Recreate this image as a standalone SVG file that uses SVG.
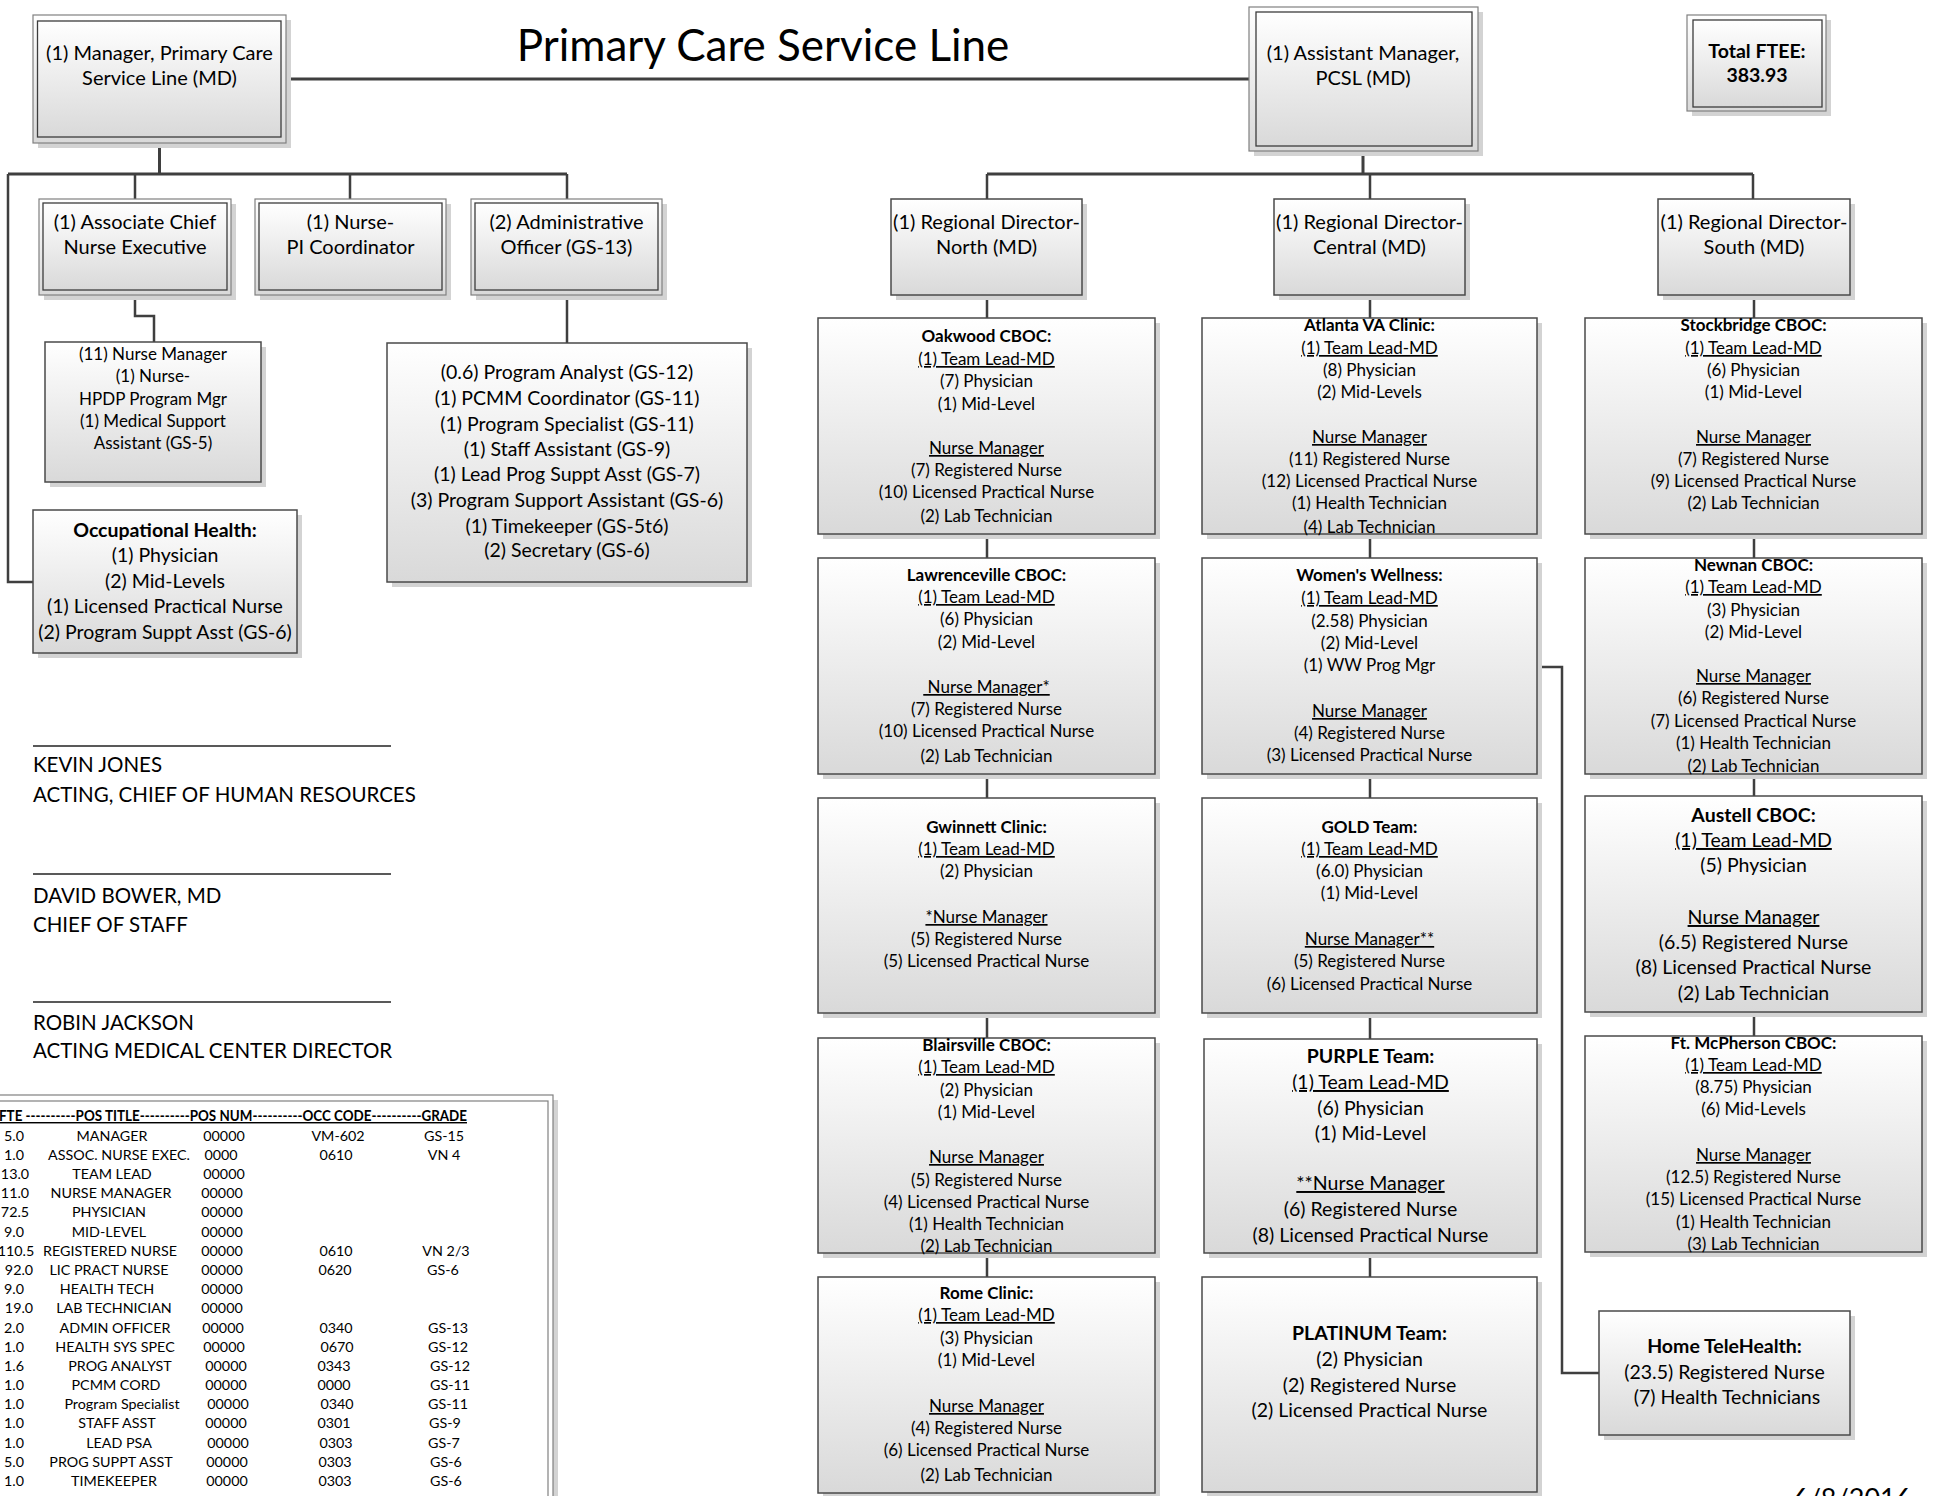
<svg xmlns="http://www.w3.org/2000/svg" width="1935" height="1496" viewBox="0 0 1935 1496">
<defs>
<linearGradient id="gf" x1="0" y1="0" x2="0" y2="1">
<stop offset="0" stop-color="#ffffff"/>
<stop offset="1" stop-color="#d9d9d9"/>
</linearGradient>
</defs>
<style>
.bg{fill:#ffffff}
.sh{fill:#d3d3d3}
.bx{fill:url(#gf);stroke:#4a4a4a;stroke-width:1.5}
.ob{fill:url(#gf);stroke:#808080;stroke-width:1.2}
.ib{fill:url(#gf);stroke:#3c3c3c;stroke-width:1.3}
.tb{fill:#ffffff;stroke:#808080;stroke-width:1.2}
.c{fill:none;stroke:#3f3f3f;stroke-width:2.5}
.c3{fill:none;stroke:#3f3f3f;stroke-width:3}
.sig{stroke:#222;stroke-width:1.5}
text{font-family:Lato,"Liberation Sans",sans-serif;fill:#000}
.m{text-anchor:middle}
.f17{font-size:17px}
.f19{font-size:19.5px}
.f20{font-size:20px}
.f14{font-size:14.3px}
.f21{font-size:20.5px}
.b{font-weight:bold}
.u{text-decoration:underline}
</style>
<rect class="bg" x="0" y="0" width="1935" height="1496"/>

<text id="title" class="m" x="763" y="61" style="font-size:44px">Primary Care Service Line</text>

<g id="connectors">
<path class="c3" d="M286 79 H1249"/>
<path class="c3" d="M159.5 143 V174 M8 174 H567"/>
<path class="c" d="M8 174 V582 H33"/>
<path class="c" d="M135 174 V199 M350 174 V199 M567 174 V199"/>
<path class="c" d="M135 295 V316 H154 V342"/>
<path class="c" d="M567 295 V343"/>
<path class="c3" d="M1363 151 V174 M987 174 H1753"/>
<path class="c" d="M987 174 V199 M1370 174 V199 M1753 174 V199"/>
<path class="c" d="M987 295 V318 M987 534 V558 M987 774 V798 M987 1013 V1038 M987 1253 V1277"/>
<path class="c" d="M1370 295 V318 M1370 534 V558 M1370 774 V798 M1370 1013 V1039 M1370 1253 V1277"/>
<path class="c" d="M1754 295 V318 M1754 534 V558 M1754 774 V796 M1754 1012 V1036"/>
<path class="c" d="M1537 667 H1562 V1373 H1599"/>
</g>

<g id="manager">
<rect class="sh" x="38" y="20" width="253" height="128"/>
<rect class="ob" x="33" y="15" width="253" height="128"/>
<rect class="ib" x="37.5" y="21" width="243.5" height="116"/>
<text class="m f20" x="159.5" y="60">(1) Manager, Primary Care</text>
<text class="m f20" x="159.5" y="85">Service Line (MD)</text>
</g>

<g id="asst-manager">
<rect class="sh" x="1254" y="12" width="229" height="144"/>
<rect class="ob" x="1249" y="7" width="229" height="144"/>
<rect class="ib" x="1256" y="12" width="216" height="134"/>
<text class="m f20" x="1363" y="60">(1) Assistant Manager,</text>
<text class="m f20" x="1363" y="85">PCSL (MD)</text>
</g>

<g id="total-ftee">
<rect class="sh" x="1692" y="20" width="139" height="96"/>
<rect class="ob" x="1687" y="15" width="139" height="96"/>
<rect class="ib" x="1693" y="20" width="129" height="87"/>
<text class="m f19 b" x="1757" y="58">Total FTEE:</text>
<text class="m f19 b" x="1757" y="82">383.93</text>
</g>

<g id="acne">
<rect class="sh" x="44" y="204" width="192" height="96"/>
<rect class="ob" x="39" y="199" width="192" height="96"/>
<rect class="ib" x="43" y="203" width="184" height="87"/>
<text class="m f20" x="135" y="229">(1) Associate Chief</text>
<text class="m f20" x="135" y="254">Nurse Executive</text>
</g>

<g id="nurse-pi">
<rect class="sh" x="260" y="204" width="191" height="96"/>
<rect class="ob" x="255" y="199" width="191" height="96"/>
<rect class="ib" x="259" y="203" width="183" height="87"/>
<text class="m f20" x="350.5" y="229">(1) Nurse-</text>
<text class="m f20" x="350.5" y="254">PI Coordinator</text>
</g>

<g id="admin-officer">
<rect class="sh" x="476" y="204" width="191" height="96"/>
<rect class="ob" x="471" y="199" width="191" height="96"/>
<rect class="ib" x="475" y="203" width="183" height="87"/>
<text class="m f20" x="566.5" y="229">(2) Administrative</text>
<text class="m f20" x="566.5" y="254">Officer (GS-13)</text>
</g>

<g id="nurse-manager-group">
<rect class="sh" x="50" y="347" width="216" height="140"/>
<rect class="bx" x="45" y="342" width="216" height="140"/>
<text class="m f17" x="153" y="360">(11) Nurse Manager</text>
<text class="m f17" x="153" y="382">(1) Nurse-</text>
<text class="m f17" x="153" y="405">HPDP Program Mgr</text>
<text class="m f17" x="153" y="427">(1) Medical Support</text>
<text class="m f17" x="153" y="449">Assistant (GS-5)</text>
</g>

<g id="program-staff">
<rect class="sh" x="392" y="348" width="360" height="239"/>
<rect class="bx" x="387" y="343" width="360" height="239"/>
<text class="m f19" x="567" y="379">(0.6) Program Analyst (GS-12)</text>
<text class="m f19" x="567" y="405">(1) PCMM Coordinator (GS-11)</text>
<text class="m f19" x="567" y="431">(1) Program Specialist (GS-11)</text>
<text class="m f19" x="567" y="456">(1) Staff Assistant (GS-9)</text>
<text class="m f19" x="567" y="481">(1) Lead Prog Suppt Asst (GS-7)</text>
<text class="m f19" x="567" y="507">(3) Program Support Assistant (GS-6)</text>
<text class="m f19" x="567" y="533">(1) Timekeeper (GS-5t6)</text>
<text class="m f19" x="567" y="557">(2) Secretary (GS-6)</text>
</g>

<g id="occupational-health">
<rect class="sh" x="38" y="515" width="264" height="143"/>
<rect class="bx" x="33" y="510" width="264" height="143"/>
<text class="m f19 b" x="165" y="537">Occupational Health:</text>
<text class="m f19" x="165" y="562">(1) Physician</text>
<text class="m f19" x="165" y="588">(2) Mid-Levels</text>
<text class="m f19" x="165" y="613">(1) Licensed Practical Nurse</text>
<text class="m f19" x="165" y="639">(2) Program Suppt Asst (GS-6)</text>
</g>

<g id="signatures">
<line class="sig" x1="33" y1="746" x2="391" y2="746"/>
<text class="f21" x="33" y="772">KEVIN JONES</text>
<text class="f21" x="33" y="802">ACTING, CHIEF OF HUMAN RESOURCES</text>
<line class="sig" x1="33" y1="874" x2="391" y2="874"/>
<text class="f21" x="33" y="903">DAVID BOWER, MD</text>
<text class="f21" x="33" y="932">CHIEF OF STAFF</text>
<line class="sig" x1="33" y1="1002" x2="391" y2="1002"/>
<text class="f21" x="33" y="1030">ROBIN JACKSON</text>
<text class="f21" x="33" y="1058">ACTING MEDICAL CENTER DIRECTOR</text>
</g>

<g id="fte-table">
<rect class="sh" x="-15" y="1100" width="573" height="420"/>
<rect class="tb" x="-20" y="1095" width="573" height="420"/>
<rect class="tb" x="-16" y="1101" width="564" height="410"/>
<text class="f14 b u" x="-1" y="1121" textLength="468" lengthAdjust="spacingAndGlyphs">FTE ----------POS TITLE----------POS NUM----------OCC CODE----------GRADE</text>
<g class="f14">
<text class="m" x="14" y="1141">5.0</text><text class="m" x="112" y="1141">MANAGER</text><text class="m" x="224" y="1141">00000</text><text class="m" x="338" y="1141">VM-602</text><text class="m" x="444" y="1141">GS-15</text>
<text class="m" x="14" y="1160">1.0</text><text class="m" x="119" y="1160">ASSOC. NURSE EXEC.</text><text class="m" x="221" y="1160">0000</text><text class="m" x="336" y="1160">0610</text><text class="m" x="444" y="1160">VN 4</text>
<text class="m" x="15" y="1179">13.0</text><text class="m" x="112" y="1179">TEAM LEAD</text><text class="m" x="224" y="1179">00000</text>
<text class="m" x="15" y="1198">11.0</text><text class="m" x="111" y="1198">NURSE MANAGER</text><text class="m" x="222" y="1198">00000</text>
<text class="m" x="15" y="1217">72.5</text><text class="m" x="109" y="1217">PHYSICIAN</text><text class="m" x="222" y="1217">00000</text>
<text class="m" x="14" y="1237">9.0</text><text class="m" x="109" y="1237">MID-LEVEL</text><text class="m" x="222" y="1237">00000</text>
<text class="m" x="16" y="1256">110.5</text><text class="m" x="110" y="1256">REGISTERED NURSE</text><text class="m" x="222" y="1256">00000</text><text class="m" x="336" y="1256">0610</text><text class="m" x="446" y="1256">VN 2/3</text>
<text class="m" x="19" y="1275">92.0</text><text class="m" x="109" y="1275">LIC PRACT NURSE</text><text class="m" x="222" y="1275">00000</text><text class="m" x="335" y="1275">0620</text><text class="m" x="443" y="1275">GS-6</text>
<text class="m" x="14" y="1294">9.0</text><text class="m" x="107" y="1294">HEALTH TECH</text><text class="m" x="222" y="1294">00000</text>
<text class="m" x="19" y="1313">19.0</text><text class="m" x="114" y="1313">LAB TECHNICIAN</text><text class="m" x="222" y="1313">00000</text>
<text class="m" x="14" y="1333">2.0</text><text class="m" x="115" y="1333">ADMIN OFFICER</text><text class="m" x="223" y="1333">00000</text><text class="m" x="336" y="1333">0340</text><text class="m" x="448" y="1333">GS-13</text>
<text class="m" x="14" y="1352">1.0</text><text class="m" x="115" y="1352">HEALTH SYS SPEC</text><text class="m" x="224" y="1352">00000</text><text class="m" x="337" y="1352">0670</text><text class="m" x="448" y="1352">GS-12</text>
<text class="m" x="14" y="1371">1.6</text><text class="m" x="120" y="1371">PROG ANALYST</text><text class="m" x="226" y="1371">00000</text><text class="m" x="334" y="1371">0343</text><text class="m" x="450" y="1371">GS-12</text>
<text class="m" x="14" y="1390">1.0</text><text class="m" x="116" y="1390">PCMM CORD</text><text class="m" x="226" y="1390">00000</text><text class="m" x="334" y="1390">0000</text><text class="m" x="450" y="1390">GS-11</text>
<text class="m" x="14" y="1409">1.0</text><text class="m" x="122" y="1409">Program Specialist</text><text class="m" x="228" y="1409">00000</text><text class="m" x="337" y="1409">0340</text><text class="m" x="448" y="1409">GS-11</text>
<text class="m" x="14" y="1428">1.0</text><text class="m" x="117" y="1428">STAFF ASST</text><text class="m" x="226" y="1428">00000</text><text class="m" x="334" y="1428">0301</text><text class="m" x="445" y="1428">GS-9</text>
<text class="m" x="14" y="1448">1.0</text><text class="m" x="119" y="1448">LEAD PSA</text><text class="m" x="228" y="1448">00000</text><text class="m" x="336" y="1448">0303</text><text class="m" x="444" y="1448">GS-7</text>
<text class="m" x="14" y="1467">5.0</text><text class="m" x="111" y="1467">PROG SUPPT ASST</text><text class="m" x="227" y="1467">00000</text><text class="m" x="335" y="1467">0303</text><text class="m" x="446" y="1467">GS-6</text>
<text class="m" x="14" y="1486">1.0</text><text class="m" x="114" y="1486">TIMEKEEPER</text><text class="m" x="227" y="1486">00000</text><text class="m" x="335" y="1486">0303</text><text class="m" x="446" y="1486">GS-6</text>
</g>
</g>

<g id="rd-north">
<rect class="sh" x="896" y="204" width="191" height="96"/>
<rect class="bx" x="891" y="199" width="191" height="96"/>
<text class="m f20" x="986.5" y="229">(1) Regional Director-</text>
<text class="m f20" x="986.5" y="254">North (MD)</text>
</g>
<g id="rd-central">
<rect class="sh" x="1279" y="204" width="191" height="96"/>
<rect class="bx" x="1274" y="199" width="191" height="96"/>
<text class="m f20" x="1369.5" y="229">(1) Regional Director-</text>
<text class="m f20" x="1369.5" y="254">Central (MD)</text>
</g>
<g id="rd-south">
<rect class="sh" x="1663" y="204" width="192" height="96"/>
<rect class="bx" x="1658" y="199" width="192" height="96"/>
<text class="m f20" x="1754" y="229">(1) Regional Director-</text>
<text class="m f20" x="1754" y="254">South (MD)</text>
</g>

<g id="oakwood">
<rect class="sh" x="823" y="323" width="337" height="216"/>
<rect class="bx" x="818" y="318" width="337" height="216"/>
<text class="m f17 b" x="986.5" y="342">Oakwood CBOC:</text>
<text class="m f17 u" x="986.5" y="365">(1) Team Lead-MD</text>
<text class="m f17" x="986.5" y="387">(7) Physician</text>
<text class="m f17" x="986.5" y="410">(1) Mid-Level</text>
<text class="m f17 u" x="986.5" y="454">Nurse Manager</text>
<text class="m f17" x="986.5" y="476">(7) Registered Nurse</text>
<text class="m f17" x="986.5" y="498">(10) Licensed Practical Nurse</text>
<text class="m f17" x="986.5" y="522">(2) Lab Technician</text>
</g>

<g id="lawrenceville">
<rect class="sh" x="823" y="563" width="337" height="216"/>
<rect class="bx" x="818" y="558" width="337" height="216"/>
<text class="m f17 b" x="986.5" y="581">Lawrenceville CBOC:</text>
<text class="m f17 u" x="986.5" y="603">(1) Team Lead-MD</text>
<text class="m f17" x="986.5" y="625">(6) Physician</text>
<text class="m f17" x="986.5" y="648">(2) Mid-Level</text>
<text class="m f17 u" x="986.5" y="693" xml:space="preserve"> Nurse Manager*</text>
<text class="m f17" x="986.5" y="715">(7) Registered Nurse</text>
<text class="m f17" x="986.5" y="737">(10) Licensed Practical Nurse</text>
<text class="m f17" x="986.5" y="762">(2) Lab Technician</text>
</g>

<g id="gwinnett">
<rect class="sh" x="823" y="803" width="337" height="215"/>
<rect class="bx" x="818" y="798" width="337" height="215"/>
<text class="m f17 b" x="986.5" y="833">Gwinnett Clinic:</text>
<text class="m f17 u" x="986.5" y="855">(1) Team Lead-MD</text>
<text class="m f17" x="986.5" y="877">(2) Physician</text>
<text class="m f17 u" x="986.5" y="923">*Nurse Manager</text>
<text class="m f17" x="986.5" y="945">(5) Registered Nurse</text>
<text class="m f17" x="986.5" y="967">(5) Licensed Practical Nurse</text>
</g>

<g id="blairsville">
<rect class="sh" x="823" y="1043" width="337" height="215"/>
<rect class="bx" x="818" y="1038" width="337" height="215"/>
<text class="m f17 b" x="986.5" y="1051">Blairsville CBOC:</text>
<text class="m f17 u" x="986.5" y="1073">(1) Team Lead-MD</text>
<text class="m f17" x="986.5" y="1096">(2) Physician</text>
<text class="m f17" x="986.5" y="1118">(1) Mid-Level</text>
<text class="m f17 u" x="986.5" y="1163">Nurse Manager</text>
<text class="m f17" x="986.5" y="1186">(5) Registered Nurse</text>
<text class="m f17" x="986.5" y="1208">(4) Licensed Practical Nurse</text>
<text class="m f17" x="986.5" y="1230">(1) Health Technician</text>
<text class="m f17" x="986.5" y="1252">(2) Lab Technician</text>
</g>

<g id="rome">
<rect class="sh" x="823" y="1282" width="337" height="216"/>
<rect class="bx" x="818" y="1277" width="337" height="216"/>
<text class="m f17 b" x="986.5" y="1299">Rome Clinic:</text>
<text class="m f17 u" x="986.5" y="1321">(1) Team Lead-MD</text>
<text class="m f17" x="986.5" y="1344">(3) Physician</text>
<text class="m f17" x="986.5" y="1366">(1) Mid-Level</text>
<text class="m f17 u" x="986.5" y="1412">Nurse Manager</text>
<text class="m f17" x="986.5" y="1434">(4) Registered Nurse</text>
<text class="m f17" x="986.5" y="1456">(6) Licensed Practical Nurse</text>
<text class="m f17" x="986.5" y="1481">(2) Lab Technician</text>
</g>

<g id="atlanta">
<rect class="sh" x="1207" y="323" width="335" height="216"/>
<rect class="bx" x="1202" y="318" width="335" height="216"/>
<text class="m f17 b" x="1369.5" y="331">Atlanta VA Clinic:</text>
<text class="m f17 u" x="1369.5" y="354">(1) Team Lead-MD</text>
<text class="m f17" x="1369.5" y="376">(8) Physician</text>
<text class="m f17" x="1369.5" y="398">(2) Mid-Levels</text>
<text class="m f17 u" x="1369.5" y="443">Nurse Manager</text>
<text class="m f17" x="1369.5" y="465">(11) Registered Nurse</text>
<text class="m f17" x="1369.5" y="487">(12) Licensed Practical Nurse</text>
<text class="m f17" x="1369.5" y="509">(1) Health Technician</text>
<text class="m f17" x="1369.5" y="533">(4) Lab Technician</text>
</g>

<g id="womens-wellness">
<rect class="sh" x="1207" y="563" width="335" height="216"/>
<rect class="bx" x="1202" y="558" width="335" height="216"/>
<text class="m f17 b" x="1369.5" y="581">Women's Wellness:</text>
<text class="m f17 u" x="1369.5" y="604">(1) Team Lead-MD</text>
<text class="m f17" x="1369.5" y="627">(2.58) Physician</text>
<text class="m f17" x="1369.5" y="649">(2) Mid-Level</text>
<text class="m f17" x="1369.5" y="671">(1) WW Prog Mgr</text>
<text class="m f17 u" x="1369.5" y="717">Nurse Manager</text>
<text class="m f17" x="1369.5" y="739">(4) Registered Nurse</text>
<text class="m f17" x="1369.5" y="761">(3) Licensed Practical Nurse</text>
</g>

<g id="gold-team">
<rect class="sh" x="1207" y="803" width="335" height="215"/>
<rect class="bx" x="1202" y="798" width="335" height="215"/>
<text class="m f17 b" x="1369.5" y="833">GOLD Team:</text>
<text class="m f17 u" x="1369.5" y="855">(1) Team Lead-MD</text>
<text class="m f17" x="1369.5" y="877">(6.0) Physician</text>
<text class="m f17" x="1369.5" y="899">(1) Mid-Level</text>
<text class="m f17 u" x="1369.5" y="945">Nurse Manager**</text>
<text class="m f17" x="1369.5" y="967">(5) Registered Nurse</text>
<text class="m f17" x="1369.5" y="990">(6) Licensed Practical Nurse</text>
</g>

<g id="purple-team">
<rect class="sh" x="1209" y="1044" width="333" height="214"/>
<rect class="bx" x="1204" y="1039" width="333" height="214"/>
<text class="m f19 b" x="1370.5" y="1063">PURPLE Team:</text>
<text class="m f19 u" x="1370.5" y="1089">(1) Team Lead-MD</text>
<text class="m f19" x="1370.5" y="1115">(6) Physician</text>
<text class="m f19" x="1370.5" y="1140">(1) Mid-Level</text>
<text class="m f19 u" x="1370.5" y="1190">**Nurse Manager</text>
<text class="m f19" x="1370.5" y="1216">(6) Registered Nurse</text>
<text class="m f19" x="1370.5" y="1242">(8) Licensed Practical Nurse</text>
</g>

<g id="platinum-team">
<rect class="sh" x="1207" y="1282" width="335" height="215"/>
<rect class="bx" x="1202" y="1277" width="335" height="215"/>
<text class="m f19 b" x="1369.5" y="1340">PLATINUM Team:</text>
<text class="m f19" x="1369.5" y="1366">(2) Physician</text>
<text class="m f19" x="1369.5" y="1392">(2) Registered Nurse</text>
<text class="m f19" x="1369.5" y="1417">(2) Licensed Practical Nurse</text>
</g>

<g id="stockbridge">
<rect class="sh" x="1590" y="323" width="337" height="216"/>
<rect class="bx" x="1585" y="318" width="337" height="216"/>
<text class="m f17 b" x="1753.5" y="331">Stockbridge CBOC:</text>
<text class="m f17 u" x="1753.5" y="354">(1) Team Lead-MD</text>
<text class="m f17" x="1753.5" y="376">(6) Physician</text>
<text class="m f17" x="1753.5" y="398">(1) Mid-Level</text>
<text class="m f17 u" x="1753.5" y="443">Nurse Manager</text>
<text class="m f17" x="1753.5" y="465">(7) Registered Nurse</text>
<text class="m f17" x="1753.5" y="487">(9) Licensed Practical Nurse</text>
<text class="m f17" x="1753.5" y="509">(2) Lab Technician</text>
</g>

<g id="newnan">
<rect class="sh" x="1590" y="563" width="337" height="216"/>
<rect class="bx" x="1585" y="558" width="337" height="216"/>
<text class="m f17 b" x="1753.5" y="571">Newnan CBOC:</text>
<text class="m f17 u" x="1753.5" y="593">(1) Team Lead-MD</text>
<text class="m f17" x="1753.5" y="616">(3) Physician</text>
<text class="m f17" x="1753.5" y="638">(2) Mid-Level</text>
<text class="m f17 u" x="1753.5" y="682">Nurse Manager</text>
<text class="m f17" x="1753.5" y="704">(6) Registered Nurse</text>
<text class="m f17" x="1753.5" y="727">(7) Licensed Practical Nurse</text>
<text class="m f17" x="1753.5" y="749">(1) Health Technician</text>
<text class="m f17" x="1753.5" y="772">(2) Lab Technician</text>
</g>

<g id="austell">
<rect class="sh" x="1590" y="801" width="337" height="216"/>
<rect class="bx" x="1585" y="796" width="337" height="216"/>
<text class="m f19 b" x="1753.5" y="822">Austell CBOC:</text>
<text class="m f19 u" x="1753.5" y="847">(1) Team Lead-MD</text>
<text class="m f19" x="1753.5" y="872">(5) Physician</text>
<text class="m f19 u" x="1753.5" y="924">Nurse Manager</text>
<text class="m f19" x="1753.5" y="949">(6.5) Registered Nurse</text>
<text class="m f19" x="1753.5" y="974">(8) Licensed Practical Nurse</text>
<text class="m f19" x="1753.5" y="1000">(2) Lab Technician</text>
</g>

<g id="ft-mcpherson">
<rect class="sh" x="1590" y="1041" width="337" height="216"/>
<rect class="bx" x="1585" y="1036" width="337" height="216"/>
<text class="m f17 b" x="1753.5" y="1049">Ft. McPherson CBOC:</text>
<text class="m f17 u" x="1753.5" y="1071">(1) Team Lead-MD</text>
<text class="m f17" x="1753.5" y="1093">(8.75) Physician</text>
<text class="m f17" x="1753.5" y="1115">(6) Mid-Levels</text>
<text class="m f17 u" x="1753.5" y="1161">Nurse Manager</text>
<text class="m f17" x="1753.5" y="1183">(12.5) Registered Nurse</text>
<text class="m f17" x="1753.5" y="1205">(15) Licensed Practical Nurse</text>
<text class="m f17" x="1753.5" y="1228">(1) Health Technician</text>
<text class="m f17" x="1753.5" y="1250">(3) Lab Technician</text>
</g>

<g id="home-telehealth">
<rect class="sh" x="1604" y="1316" width="251" height="124"/>
<rect class="bx" x="1599" y="1311" width="251" height="124"/>
<text class="m f19 b" x="1724.5" y="1353">Home TeleHealth:</text>
<text class="m f19" x="1724.5" y="1379">(23.5) Registered Nurse</text>
<text class="m f19" x="1724.5" y="1404" xml:space="preserve"> (7) Health Technicians</text>
</g>

<text id="date" x="1793" y="1508" style="font-size:27px">6/8/2016</text>
</svg>
